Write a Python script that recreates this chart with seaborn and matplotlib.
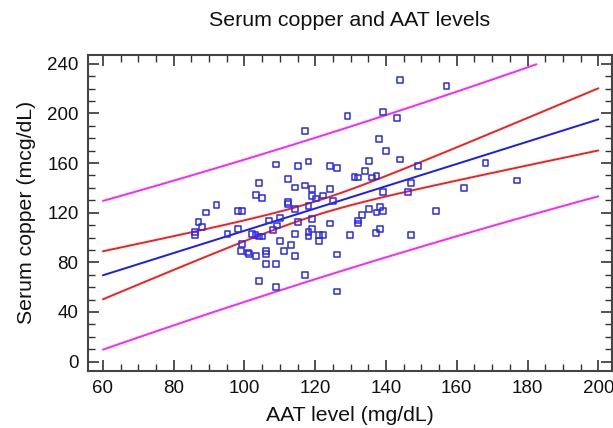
import numpy as np
import pandas as pd
import matplotlib
matplotlib.use("Agg")
import matplotlib.pyplot as plt
from matplotlib.ticker import MultipleLocator
import seaborn as sns

# ---- data ----
aat = [104.0, 129.1, 139.1, 117.2, 138.1, 140.1, 109.0, 115.2, 118.1, 124.1,
       126.1, 135.2, 134.1, 131.1, 132.2, 136.1, 137.3, 112.2, 114.3, 117.2,
       119.2, 124.2, 144.0, 157.1, 143.0, 144.0, 149.1, 168.1, 147.1, 177.1,
       162.1, 146.1, 154.2, 147.1, 103.2, 105.0, 92.1, 89.0, 98.1, 99.2,
       87.0, 88.1, 86.0, 86.0, 95.2, 98.2, 107.0, 102.1, 103.1, 104.1,
       105.1, 99.2, 99.1, 101.1, 103.2, 106.1, 106.2, 106.2, 104.0, 119.2,
       120.1, 122.2, 112.2, 112.2, 125.1, 118.1, 114.3, 110.0, 109.1, 108.1,
       115.2, 119.2, 119.2, 118.1, 118.1, 114.3, 121.1, 122.2, 121.1, 124.1,
       129.9, 110.0, 113.2, 111.2, 114.2, 126.1, 109.0, 117.2, 109.0, 126.1,
       139.2, 138.2, 137.3, 139.1, 135.2, 133.2, 132.1, 132.1, 138.2, 137.2,
       101.3]
copper = [144.1, 197.6, 201.1, 186.0, 179.6, 169.4, 158.9, 157.8, 161.3, 157.3,
          156.2, 161.9, 153.5, 148.9, 148.4, 148.4, 149.8, 147.3, 140.3, 141.9,
          139.0, 139.0, 226.9, 222.1, 196.0, 162.9, 157.3, 160.0, 144.1, 146.0,
          140.1, 136.9, 121.3, 102.2, 134.2, 132.0, 126.4, 120.2, 121.3, 121.3,
          112.4, 108.4, 104.4, 101.9, 103.2, 107.0, 113.7, 103.2, 102.2, 100.8,
          100.8, 94.7, 89.3, 87.9, 85.0, 89.3, 86.9, 78.5, 65.1, 133.4,
          131.5, 133.9, 128.8, 127.2, 129.8, 125.6, 122.9, 116.1, 109.7, 106.2,
          112.4, 115.1, 107.0, 104.4, 100.8, 103.2, 102.2, 102.2, 97.1, 111.3,
          102.2, 97.1, 94.1, 89.3, 85.0, 86.3, 78.8, 69.7, 60.2, 56.5,
          136.9, 124.5, 120.2, 121.3, 122.9, 118.1, 113.7, 111.3, 107.0, 103.5,
          86.9]
x_ticks = [60, 80, 100, 120, 140, 160, 180, 200]
y_ticks = [0, 40, 80, 120, 160, 200, 240]
title = "Serum copper and AAT levels"
x_label = "AAT level (mg/dL)"
y_label = "Serum copper (mcg/dL)"

# ---- regression with 95% confidence and prediction intervals ----
x = np.asarray(aat, float)
y = np.asarray(copper, float)
n = len(x)
xbar = x.mean()
sxx = ((x - xbar) ** 2).sum()
b1 = ((x - xbar) * (y - y.mean())).sum() / sxx
b0 = y.mean() - b1 * xbar
resid = y - (b0 + b1 * x)
s = np.sqrt((resid ** 2).sum() / (n - 2))
t_crit = 1.9845

xg = np.linspace(60, 200, 57)
fit = b0 + b1 * xg
se_mean = s * np.sqrt(1 / n + (xg - xbar) ** 2 / sxx)
se_pred = s * np.sqrt(1 + 1 / n + (xg - xbar) ** 2 / sxx)
ci_lo, ci_hi = fit - t_crit * se_mean, fit + t_crit * se_mean
pi_lo, pi_hi = fit - t_crit * se_pred, fit + t_crit * se_pred
pi_hi = np.where(pi_hi <= 240, pi_hi, np.nan)

# ---- plotting ----
sns.set_style("ticks")
plt.rcParams["font.family"] = ["Liberation Sans", "DejaVu Sans"]

fig = plt.figure(figsize=(6.13, 4.28), dpi=100)
ax = fig.add_axes([0.144, 0.134, 0.854, 0.738])

lw = 1.4
sns.lineplot(x=xg, y=pi_hi, color="#ff22ff", lw=lw, ax=ax, estimator=None)
sns.lineplot(x=xg, y=pi_lo, color="#ff22ff", lw=lw, ax=ax, estimator=None)
sns.lineplot(x=xg, y=ci_hi, color="#ff1a1a", lw=lw, ax=ax, estimator=None)
sns.lineplot(x=xg, y=ci_lo, color="#ff1a1a", lw=lw, ax=ax, estimator=None)
sns.lineplot(x=xg, y=fit, color="#1a1aff", lw=lw, ax=ax, estimator=None)
sns.scatterplot(x=x, y=y, marker="s", s=18, facecolors="none",
                edgecolors="#2a2aee", linewidths=1.1, ax=ax, zorder=5)

ax.set_xlim(55.85, 203.8)
ax.set_ylim(-7.3, 247.3)
ax.set_xticks(x_ticks)
ax.set_yticks(y_ticks)
ax.xaxis.set_minor_locator(MultipleLocator(5))
ax.yaxis.set_minor_locator(MultipleLocator(10))
ax.tick_params(which="both", direction="in", top=True, right=True,
               color="#333333", labelsize=13.5, labelcolor="#111111")
ax.tick_params(which="major", length=8, width=1.2, pad=7)
ax.tick_params(which="minor", length=5, width=1.0)
for sp in ax.spines.values():
    sp.set_visible(True)
    sp.set_color("#444444")
    sp.set_linewidth(1.5)

ax.set_xlabel(x_label, fontsize=15.3, color="#111111", labelpad=6)
ax.set_ylabel(y_label, fontsize=15.3, color="#111111", labelpad=8)
fig.text(0.571, 0.952, title, fontsize=15.4, ha="center", va="center",
         color="#111111")

fig.savefig("out.png", dpi=100)
